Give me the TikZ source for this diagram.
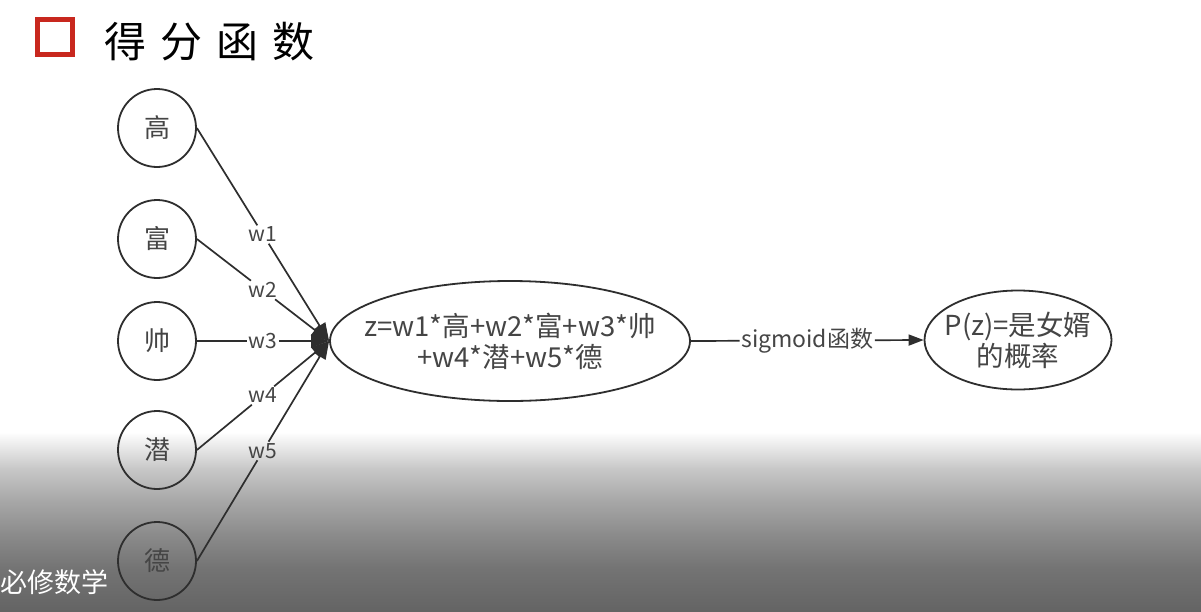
\documentclass[tikz,border=0pt]{standalone}
\usepackage{fontspec}
\setmainfont{Noto Sans CJK SC}
\usetikzlibrary{arrows.meta,shapes.geometric,calc}
\definecolor{txt}{HTML}{454545}
\definecolor{ln}{HTML}{2E2E2E}
\definecolor{boxred}{HTML}{C8281E}
\definecolor{g1}{HTML}{C8C8C8}
\definecolor{g2}{HTML}{A8A8A8}
\definecolor{g3}{HTML}{8C8C8C}
\definecolor{g4}{HTML}{747474}
\definecolor{g5}{HTML}{646464}
\begin{document}
\begin{tikzpicture}[x=1pt,y=-1pt,
  feat/.style={circle,draw=ln,line width=1.8pt,minimum size=78pt,inner sep=0pt,
    text=txt,font=\fontsize{26}{26}\selectfont},
  bigell/.style={ellipse,draw=ln,line width=1.8pt,inner sep=0pt},
  eqtext/.style={align=center,text=txt,font=\fontsize{27.5}{31}\selectfont,inner sep=0pt},
  wlab/.style={text=txt,font=\fontsize{21}{21}\selectfont,inner sep=1.5pt},
  slab/.style={text=txt,font=\fontsize{23}{23}\selectfont,inner sep=1.5pt},
  edge/.style={draw=ln,line width=1.7pt},
  tip/.style={-{Triangle[length=18pt,width=13pt]}},
  stip/.style={-{Triangle[length=15pt,width=11pt]}}
]
\useasboundingbox (0,0) rectangle (1201,611);
\fill[white] (0,0) rectangle (1201,611);
% bottom darkening band
\shade[top color=white,bottom color=g1] (0,432) rectangle (1201,468.5);
\shade[top color=g1,bottom color=g2] (0,468) rectangle (1201,500.5);
\shade[top color=g2,bottom color=g3] (0,500) rectangle (1201,533.5);
\shade[top color=g3,bottom color=g4] (0,533) rectangle (1201,567.5);
\shade[top color=g4,bottom color=g5] (0,567) rectangle (1201,611);

% title
\draw[boxred,line width=4.5pt] (37.5,19.5) rectangle (72.5,54.5);
\node[anchor=west,inner sep=0pt,font=\fontsize{42}{42}\selectfont] (title) at (104,42)
  {得\hspace{14pt}分\hspace{14pt}函\hspace{14pt}数};

% feature nodes
\node[feat] (c1) at (157,128) {高};
\node[feat] (c2) at (157,239) {富};
\node[feat] (c3) at (157,341) {帅};
\node[feat] (c4) at (157,450) {潜};
\node[feat] (c5) at (157,561) {德};

% score node
\node[bigell,minimum width=360pt,minimum height=120pt] (z) at (510,341) {};
\node[eqtext] (zt) at (z.center) {z=w1*高+w2*富+w3*帅\\+w4*潜+w5*德};

% probability node
\node[bigell,minimum width=187pt,minimum height=99pt] (p) at (1018,340) {};
\node[eqtext] (pt) at (p.center) {P(z)=是女婿\\的概率};

% weighted edges
\foreach \i in {1,...,5}{
  \path ($(c\i.east)!0.5!(z.west)$) node[wlab] (w\i) {w\i};
  \draw[edge] (c\i.east) -- (w\i);
  \draw[edge,tip] (w\i) -- (z.west);
}

% sigmoid edge
\path ($(z.east)!0.5!(p.west)$) node[slab] (sg) {sigmoid函数};
\draw[edge] (z.east) -- (sg);
\draw[edge,stip] (sg) -- (p.west);

% watermark
\node[anchor=west,inner sep=0pt,text=white,font=\fontsize{27}{27}\selectfont] (wm) at (0,582) {必修数学};
\end{tikzpicture}
\end{document}
